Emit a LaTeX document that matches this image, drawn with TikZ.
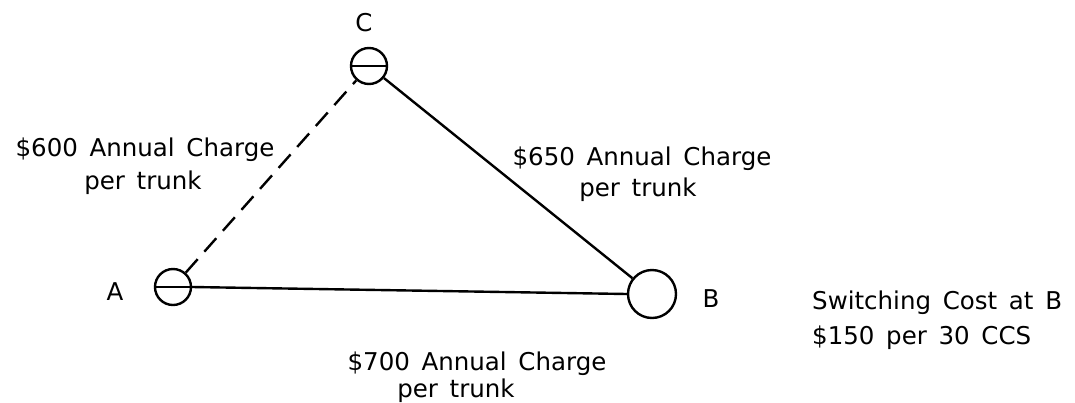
\documentclass[tikz,border=0pt]{standalone}
\usepackage{fontspec}
\setmainfont[WordSpace={1.5,0.5,0.3}]{DejaVu Sans}
\begin{document}
\begin{tikzpicture}[x=1pt,y=-1pt,
  lw/.style={line width=2.4pt},
  sw/.style={circle,draw,line width=2.4pt,inner sep=0pt},
  lbl/.style={font=\fontsize{24.5}{30}\selectfont,inner sep=0pt,anchor=base},
  ]
\useasboundingbox (0,0) rectangle (1075,402);
\node[sw,minimum size=36pt] (C) at (369,66) {};
\node[sw,minimum size=36pt] (A) at (173,287) {};
\node[sw,minimum size=48pt] (B) at (652,294) {};
\draw[line width=1.8pt] (C.west) -- (C.east);
\draw[line width=1.8pt] (A.west) -- (A.east);
\draw[lw] (A.east) -- (B.west);
\draw[lw] (C) -- (B);
\draw[lw,dash pattern=on 18pt off 10pt] (A) -- (C);
\node[lbl] (lc) at (364,31) {C};
\node[lbl] (la) at (115,300) {A};
\node[lbl] (lb) at (711,307) {B};
\node[lbl] (t1a) at (145,156) {\$600 Annual Charge};
\node[lbl] (t1b) at (143,189) {per trunk};
\node[lbl] (t2a) at (642,165) {\$650 Annual Charge};
\node[lbl] (t2b) at (638,196) {per trunk};
\node[lbl] (t3a) at (477,370) {\$700 Annual Charge};
\node[lbl] (t3b) at (456,397) {per trunk};
\node[lbl,anchor=base west] (t4a) at (812,309) {Switching Cost at B};
\node[lbl,anchor=base west] (t4b) at (812,344) {\$150 per 30 CCS};
\end{tikzpicture}
\end{document}
